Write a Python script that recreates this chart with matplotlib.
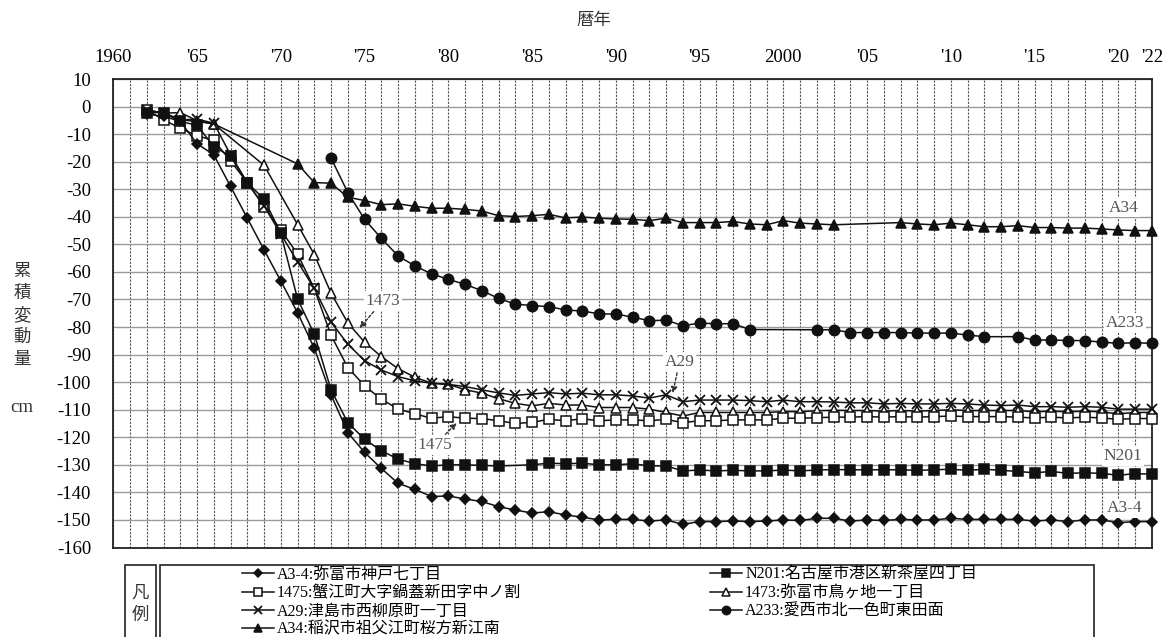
import matplotlib
matplotlib.use('Agg')
import matplotlib.pyplot as plt
from matplotlib.patches import Rectangle

plt.rcParams['font.family'] = ['Liberation Serif', 'Noto Sans CJK JP', 'DejaVu Sans']
plt.rcParams['axes.unicode_minus'] = False

N = None
YEARS = list(range(1962, 2023))

a3_4 = [-2.8, -3.5, -5.4, -13.5, -17.5, -29, -40.5, -52, -63.3, -74.8,
        -87.7, -104.6, -118.3, -125.5, -131.3, -136.7, -138.9, -141.5, -141.3, -142.4,
        -143.3, -145.2, -146.4, -147.5, -147, -148.2, -149, -150, -149.8, -149.8,
        -150.4, -150, -151.6, -150.6, -150.6, -150.4, -150.6, -150.4, -150, -150.2,
        -149.4, -149.4, -150.4, -150, -150.2, -149.8, -150, -150, -149.4, -149.8,
        -149.8, -149.8, -149.8, -150.4, -150, -150.6, -150, -150, -151, -150.6,
        -150.6]

n201 = [-2.2, -2.2, -5.4, -6.8, -14.5, -18.1, -27.6, -33.6, -46, -69.8,
        -82.6, -102.8, -114.7, -120.7, -124.9, -127.9, -129.6, -130.4, -130, -130,
        -130.2, -130.4, N, -130, -129.4, -129.6, -129.4, -130, -130, -129.6,
        -130.4, -130.4, -132.2, -131.9, -132.2, -132, -132.2, -132.2, -131.9, -132.2,
        -131.9, -131.7, -131.8, -131.8, -131.8, -131.8, -132, -131.8, -131.6, -132,
        -131.6, -132, -132.4, -132.9, -132.4, -133.1, -132.9, -133.1, -133.8, -133.2,
        -133.4]

p1475 = [-1.2, -4.8, -7.9, -10.6, -12.3, -19.7, -27.6, -36.3, -44.8, -53.5,
         -66.1, -83, -94.7, -101.3, -106.2, -109.7, -111.5, -113.1, -112.5, -113.1,
         -113.2, -114, -115, -114.6, -113.5, -114, -113.3, -114, -113.7, -113.7,
         -114, -113.5, -114.7, -114, -114, -113.7, -113.7, -113.7, -113.1, -113.1,
         -112.9, -112.7, -112.7, -112.5, -112.7, -112.5, -112.7, -112.5, -112.3, -112.5,
         -112.5, -112.5, -112.7, -113, -112.7, -113, -112.7, -113, -113.5, -113.2,
         -113.2]

p1473 = [-1.2, -2.4, -2.2, -5.1, -6.3, N, N, -21.3, N, -42.8,
         -53.7, -67.7, -78.5, -85.5, -90.7, -95.1, -98.2, -100.4, -100.8, -102.7,
         -104, -106, -107.7, -108.6, -107.7, -108.3, -108.3, -109.2, -109.2, -109.2,
         -109.8, -111, -112.3, -111, -111, -111, -111, -111, -110.7, -110.7,
         -110.4, -110.2, -110.3, -110.3, -110.5, -110.3, -110.5, -110.3, -110, -110.3,
         -110.3, -110.3, -110.3, -110.8, -110.5, -110.8, -110.5, -110.8, -111.5, -111,
         -111]

a29 = [-1.2, -2.4, -4.8, -4.6, -6, -17.5, -27.6, -36, -46.3, -56.3,
       -66, -78.2, -86.2, -92.2, -95.6, -98, -99.5, -100.4, -100.8, -101.6,
       -102.8, -103.9, -104.8, -104.3, -103.8, -104.3, -104, -104.6, -104.6, -105,
       -105.8, -104.6, -107.1, -106.5, -106.5, -106.5, -106.7, -107.1, -106.5, -107.1,
       -107.1, -107.2, -107.5, -107.5, -107.9, -107.7, -107.9, -107.9, -107.7, -107.9,
       -108.3, -108.5, -108.3, -108.9, -108.9, -109.1, -108.9, -109.1, -109.8, -109.8,
       -109.8]

a233 = [N, N, N, N, N, N, N, N, N, N,
        N, -18.7, -31.2, -40.9, -47.8, -54.2, -57.8, -60.7, -62.7, -64.5,
        -66.8, -69.6, -71.7, -72.2, -72.6, -73.8, -74.2, -75.2, -75.3, -76.4,
        -77.7, -77.5, -79.5, -78.6, -78.8, -78.8, -80.9, N, N, N,
        -81, -81, -82, -82, -82, -82, -82.2, -82.2, -82.2, -82.9,
        -83.5, N, -83.5, -84.7, -84.7, -84.9, -84.9, -85.5, -85.9, -85.7,
        -85.9]

a34 = [-1.5, -2.2, -4.8, -5.4, -6.3, N, N, N, N, -20.8,
       -27.6, -27.8, -32.9, -34.1, -35.6, -35.3, -36.2, -36.9, -36.9, -37.3,
       -37.9, -39.6, -39.9, -39.6, -39.1, -40.4, -40.1, -40.5, -40.8, -40.9,
       -41.4, -40.5, -42.1, -42.1, -42.1, -41.7, -42.6, -42.9, -41.4, -42.3,
       -42.6, -42.9, N, N, N, -42.1, -42.6, -42.9, -42.3, -42.9,
       -43.6, -43.6, -43.2, -43.9, -43.9, -44.1, -44.1, -44.4, -44.8, -45,
       -45]

LABELS = {
    'A3-4': 'A3-4:弥富市神戸七丁目',
    'N201': 'N201:名古屋市港区新茶屋四丁目',
    '1475': '1475:蟹江町大字鍋蓋新田字中ノ割',
    '1473': '1473:弥富市鳥ヶ地一丁目',
    'A29': 'A29:津島市西柳原町一丁目',
    'A233': 'A233:愛西市北一色町東田面',
    'A34': 'A34:稲沢市祖父江町桜方新江南',
}

XTICKS = [1960, 1965, 1970, 1975, 1980, 1985, 1990, 1995, 2000, 2005, 2010, 2015, 2020, 2022]
XTICKLABELS = ['1960', "'65", "'70", "'75", "'80", "'85", "'90", "'95", '2000',
               "'05", "'10", "'15", "'20", "'22"]
YTICKS = list(range(-160, 11, 10))

W, H = 1164, 637
fig = plt.figure(figsize=(W / 100, H / 100), dpi=100)
ax = fig.add_axes([113.3 / W, 1 - 547.5 / H, (1151.8 - 113.3) / W, (547.5 - 79) / H])

K = '#111111'
series = [
    ('A34', a34, '^', K, 7.5),
    ('A233', a233, 'o', K, 7.5),
    ('1473', p1473, '^', 'white', 7.0),
    ('1475', p1475, 's', 'white', 6.5),
    ('A29', a29, 'x', K, 6.5),
    ('N201', n201, 's', K, 6.5),
    ('A3-4', a3_4, 'D', K, 5.0),
]
handles = {}
for key, vals, mk, fc, ms in series:
    xs = [y for y, v in zip(YEARS, vals) if v is not None]
    ys = [v for v in vals if v is not None]
    ln, = ax.plot(xs, ys, color=K, lw=1.1, marker=mk, ms=ms, mfc=fc, mec=K,
                  mew=1.1 if mk != 'x' else 1.3, clip_on=False, zorder=3)
    handles[key] = ln

ax.set_xlim(1960, 2022)
ax.set_ylim(-160, 10)
ax.xaxis.tick_top()
ax.set_xticks(XTICKS)
ax.set_xticklabels(XTICKLABELS)
ax.set_xticks(list(range(1961, 2022)), minor=True)
ax.set_yticks(YTICKS)
ax.tick_params(axis='x', which='both', length=0, pad=9, labelsize=13.5)
ax.tick_params(axis='y', which='both', length=0, pad=16, labelsize=13.5)
ax.grid(True, which='both', axis='x', color='#555555', lw=0.8, ls=(0, (2, 1.2)), zorder=1)
ax.grid(True, which='major', axis='y', color='#9a9a9a', lw=1.0, ls='-', zorder=1)
for s in ax.spines.values():
    s.set_linewidth(1.3)
    s.set_color('#222222')

lab_kw = dict(fontsize=12.5, color='#555555', ha='center', va='center')
box = dict(boxstyle='square,pad=0.1', fc='white', ec='none')
arr = dict(arrowstyle='-|>', ls=(0, (2, 1.5)), color='#333333', lw=1.0,
           mutation_scale=9, shrinkA=1, shrinkB=0)
ax.annotate('1473', xy=(1974.7, -80.4), xytext=(1976.1, -70.5), bbox=box,
            arrowprops=arr, zorder=5, **lab_kw)
ax.annotate('1475', xy=(1980.5, -114.8), xytext=(1979.2, -122.8), bbox=box,
            arrowprops=arr, zorder=5, **lab_kw)
ax.annotate('A29', xy=(1993.4, -104.0), xytext=(1993.8, -92.6), bbox=box,
            arrowprops=arr, zorder=5, **lab_kw)
ax.text(2020.3, -36.7, 'A34', bbox=box, zorder=5, **lab_kw)
ax.text(2020.4, -78.6, 'A233', bbox=box, zorder=5, **lab_kw)
ax.text(2020.3, -126.8, 'N201', bbox=box, zorder=5, **lab_kw)
ax.text(2020.4, -145.8, 'A3-4', bbox=box, zorder=5, **lab_kw)

fig.text(594 / W, 1 - 20 / H, '暦年', ha='center', va='center', fontsize=12.5,
         family='Noto Sans CJK JP', color='#333333')
fig.text(22 / W, 1 - 315 / H, '累\n積\n変\n動\n量', ha='center', va='center',
         fontsize=12.5, family='Noto Sans CJK JP', linespacing=1.3, color='#333333')
fig.text(22 / W, 1 - 408 / H, 'cm', ha='center', va='center', fontsize=13.5, color='#333333')

# legend frames
fig.patches.append(Rectangle((125 / W, -0.05), (155.6 - 125) / W, 0.05 + 1 - 565 / H,
                             transform=fig.transFigure, fill=False, ec='#222222', lw=1.2))
fig.patches.append(Rectangle((159.7 / W, -0.05), (1094 - 159.7) / W, 0.05 + 1 - 565 / H,
                             transform=fig.transFigure, fill=False, ec='#222222', lw=1.2))
fig.text(140 / W, 1 - 593 / H, '凡', ha='center', va='center', fontsize=12.5,
         family='Noto Sans CJK JP', color='#333333')
fig.text(140 / W, 1 - 615 / H, '例', ha='center', va='center', fontsize=12.5,
         family='Noto Sans CJK JP', color='#333333')

leg_kw = dict(loc='upper left', frameon=False, borderpad=0, borderaxespad=0,
              handlelength=2.0, handletextpad=0.2, labelspacing=0.14, markerscale=0.8,
              prop={'family': ['Liberation Serif', 'Noto Sans CJK JP'], 'size': 11.5})
col1 = ['A3-4', '1475', 'A29', 'A34']
col2 = ['N201', '1473', 'A233']
fig.legend([handles[k] for k in col1], [LABELS[k] for k in col1],
           bbox_to_anchor=(242 / W, 1 - 567 / H), **leg_kw)
fig.legend([handles[k] for k in col2], [LABELS[k] for k in col2],
           bbox_to_anchor=(710 / W, 1 - 567 / H), **leg_kw)

fig.savefig('out.png', dpi=100)
